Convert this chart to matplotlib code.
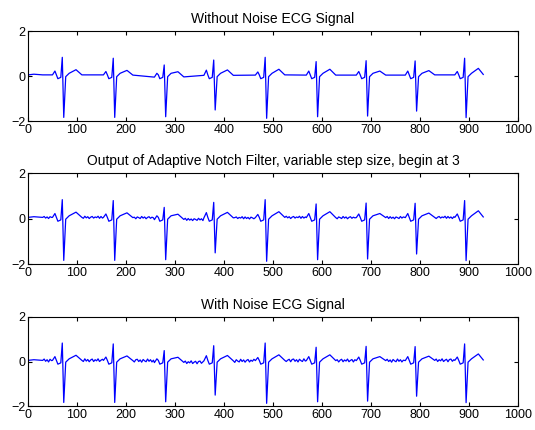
import numpy as np
import matplotlib
matplotlib.use("Agg")
import matplotlib.pyplot as plt

plt.rcParams["font.family"] = ["Liberation Sans", "DejaVu Sans"]

# beat data (sample index / amplitude)
beat_r = [70, 174, 278, 379, 484, 588, 690, 790, 891]
r_amp = [0.83, 0.79, 0.49, 0.71, 0.83, 0.64, 0.68, 0.67, 0.79]
s_amp = [-1.84, -1.84, -1.81, -1.51, -1.88, -1.81, -1.78, -1.56, -1.85]
t_amp = [0.28, 0.25, 0.19, 0.27, 0.30, 0.30, 0.22, 0.24, 0.34]
p_amp = [0.22, 0.20, 0.12, 0.26, 0.18, 0.22, 0.20, 0.22, 0.20]
pre_amp = [0.05, 0.05, -0.05, 0.03, 0.04, 0.04, 0.04, 0.04, 0.05]
base_amp = [0.05, 0.04, -0.04, 0.03, 0.05, 0.04, 0.04, 0.05, 0.05]

# shape of one beat around the R peak: offsets and the level for the fixed points
beat_off = [-20, -15, -12, -9, -3, 0, 3, 7, 14, 28, 40]
beat_lvl = [None, None, 0.05, -0.12, -0.06, None, None, -0.03, 0.12, None, None]

start_x = [0, 12, 30]
start_y = [0.05, 0.08, 0.05]
end_x = [929]
end_y = [0.07]

# jitter on the flat stretches, estimated by eye (none on the clean trace)
ripple_filtered = [0.04, -0.03, 0.02, -0.05, 0.03, 0.00, -0.04, 0.05, -0.02,
                   0.03, -0.05, 0.01, 0.04, -0.03, 0.02, -0.01, 0.05, -0.04]
ripple_noisy = [0.06, -0.04, 0.03, -0.07, 0.05, -0.01, -0.05, 0.07, -0.03,
                0.04, -0.06, 0.02, 0.06, -0.05, 0.03, -0.02, 0.07, -0.05,
                0.01, 0.05, -0.06, 0.04]

titles = ["Without Noise ECG Signal",
          "Output of Adaptive Notch Filter, variable step size, begin at 3",
          "With Noise ECG Signal"]
ripples = [None, ripple_filtered, ripple_noisy]


def build_signal(ripple=None):
    xs, ys = [], []
    k = 0

    def flat(x0, x1, level):
        # add jitter points on a flat stretch
        nonlocal k
        if ripple is None:
            return
        for x in range(x0 + 3, x1 - 1, 3):
            xs.append(x)
            ys.append(level + ripple[k % len(ripple)])
            k += 1

    for x, y in zip(start_x, start_y):
        xs.append(x)
        ys.append(y)
    flat(start_x[-1], beat_r[0] - 20, start_y[-1])
    for i, r in enumerate(beat_r):
        for off, lvl in zip(beat_off, beat_lvl):
            if off == -20:
                y = pre_amp[i]
            elif off == -15:
                y = p_amp[i]
            elif off == 0:
                y = r_amp[i]
            elif off == 3:
                y = s_amp[i]
            elif off == 28:
                y = t_amp[i]
            elif off == 40:
                y = base_amp[i]
            else:
                y = lvl
            if r + off > 925:
                continue
            xs.append(r + off)
            ys.append(y)
        if i + 1 < len(beat_r):
            flat(r + 40, beat_r[i + 1] - 20, base_amp[i])
    xs += end_x
    ys += end_y
    return xs, ys


fig = plt.figure(figsize=(5.35, 4.30), dpi=100)
boxes = [[0.0523, 0.7186, 0.916, 0.2093],
         [0.0523, 0.386, 0.916, 0.2116],
         [0.0523, 0.0558, 0.916, 0.207]]

for box, title, ripple in zip(boxes, titles, ripples):
    ax = fig.add_axes(box)
    sig_x, sig_y = build_signal(ripple)
    ax.plot(sig_x, sig_y, color="#0000ff", linewidth=0.9)
    ax.set_xlim(0, 1000)
    ax.set_ylim(-2, 2)
    ax.set_xticks(np.arange(0, 1001, 100))
    ax.set_yticks([-2, 0, 2])
    ax.tick_params(direction="in", top=True, right=True, labelsize=9, length=3, pad=2)
    ax.set_title(title, fontsize=10, pad=6)

fig.savefig("out.png", dpi=100)
